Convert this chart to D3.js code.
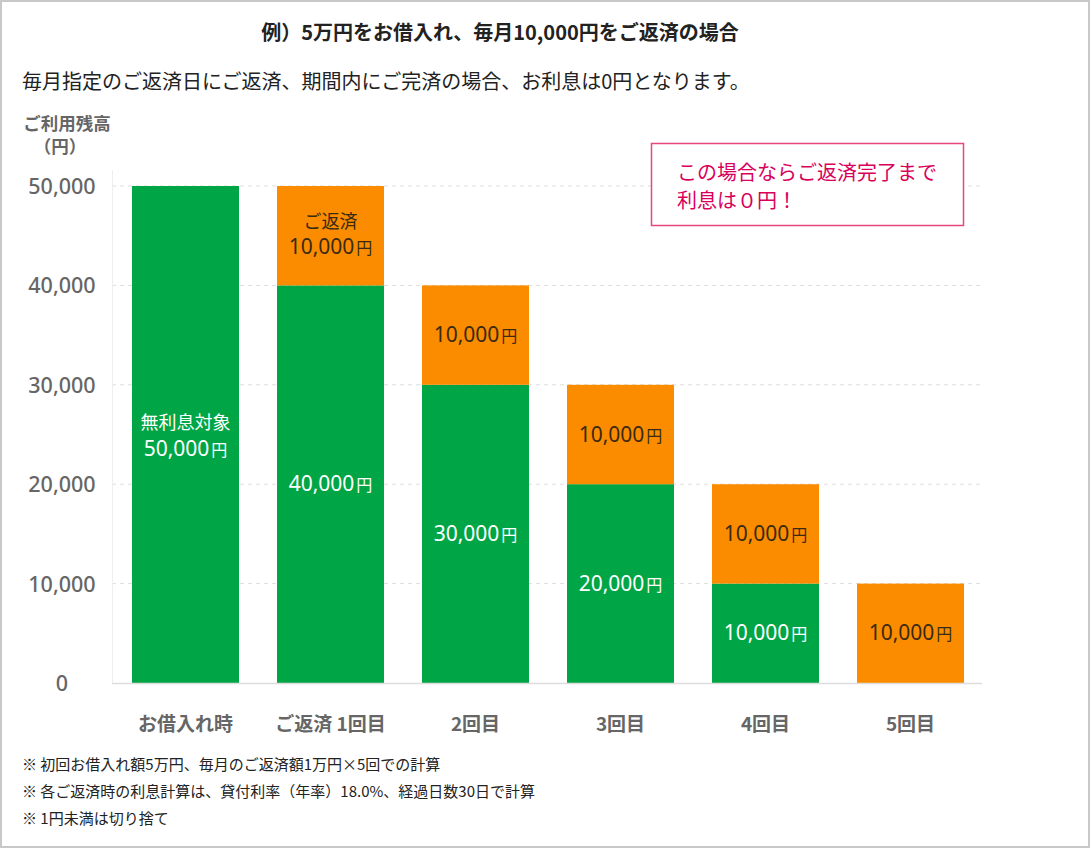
<!DOCTYPE html>
<html><head><meta charset="utf-8">
<script src="https://cdn.jsdelivr.net/npm/d3@7"></script>
<style>
html,body{margin:0;padding:0;background:#fff;}
svg{display:block;font-family:"Noto Sans CJK JP","Noto Sans",sans-serif;}
</style></head>
<body>
<svg id="chart" width="1090" height="848"></svg>
<script>
const categories = ["お借入れ時", "ご返済 1回目", "2回目", "3回目", "4回目", "5回目"];
const balance = [50000, 40000, 30000, 20000, 10000, 0];
const repayment = [0, 10000, 10000, 10000, 10000, 10000];
const yTicks = [0, 10000, 20000, 30000, 40000, 50000];
const balanceLabelTop = ["無利息対象", null, null, null, null, null];
const repayLabelTop = [null, "ご返済", null, null, null, null];
const footnotes = [
  "※ 初回お借入れ額5万円、毎月のご返済額1万円×5回での計算",
  "※ 各ご返済時の利息計算は、貸付利率（年率）18.0%、経過日数30日で計算",
  "※ 1円未満は切り捨て"
];

const svg = d3.select("#chart");
const W = 1090, H = 848;
const numFont = '"Noto Sans","Noto Sans CJK JP",sans-serif';
svg.append("rect").attr("x",1).attr("y",1).attr("width",W-2).attr("height",H-2)
  .attr("fill","#fff").attr("stroke","#c8c8c8").attr("stroke-width",2);

const x = d3.scaleBand().domain(categories).range([113, 983]).paddingInner(0.262).paddingOuter(0.131);
const y = d3.scaleLinear().domain([0, 50000]).range([683, 186]);
const fmt = d3.format(",");

// title
svg.append("text").attr("x", 500).attr("y", 40).attr("text-anchor","middle")
  .attr("font-size", 20).attr("font-weight","bold").attr("fill","#222")
  .text("例）5万円をお借入れ、毎月10,000円をご返済の場合");
svg.append("text").attr("x", 22).attr("y", 89)
  .attr("font-size", 20).attr("fill","#222")
  .text("毎月指定のご返済日にご返済、期間内にご完済の場合、お利息は0円となります。");

// y axis title
svg.append("text").attr("x", 67).attr("y", 130).attr("text-anchor","middle")
  .attr("font-size", 17.5).attr("font-weight","bold").attr("fill","#666").text("ご利用残高");
svg.append("text").attr("x", 60).attr("y", 153).attr("text-anchor","middle")
  .attr("font-size", 17.5).attr("font-weight","bold").attr("fill","#666").text("（円）");

// gridlines
const grid = svg.append("g");
grid.selectAll("line").data(yTicks.filter(d => d > 0)).join("line")
  .attr("x1", 112).attr("x2", 982).attr("y1", d => y(d)).attr("y2", d => y(d))
  .attr("stroke","#ddd").attr("stroke-dasharray","4,4").attr("stroke-width",1);
// left axis line
svg.append("line").attr("x1",112.5).attr("x2",112.5).attr("y1",170).attr("y2",683)
  .attr("stroke","#eee").attr("stroke-width",1);

// y axis labels via d3 axis
const yAxis = d3.axisLeft(y).tickValues(yTicks).tickFormat(fmt).tickSize(0).tickPadding(0);
const ya = svg.append("g").attr("transform","translate(62,0)").call(yAxis);
ya.select(".domain").remove();
ya.selectAll("text").attr("text-anchor","middle").attr("font-size",21.5).attr("font-weight","500")
  .attr("fill","#666").attr("font-family",numFont).attr("dy","0.35em");

// bars
const g = svg.append("g");
g.selectAll("rect.bal").data(categories).join("rect").attr("class","bal")
  .attr("x", d => x(d)).attr("width", x.bandwidth())
  .attr("y", (d,i) => y(balance[i])).attr("height", (d,i) => y(0) - y(balance[i]))
  .attr("fill","#00a645");
g.selectAll("rect.rep").data(categories).join("rect").attr("class","rep")
  .attr("x", d => x(d)).attr("width", x.bandwidth())
  .attr("y", (d,i) => y(balance[i] + repayment[i])).attr("height", (d,i) => y(balance[i]) - y(balance[i]+repayment[i]))
  .attr("fill","#fb8c00");

// x axis line
svg.append("line").attr("x1",112).attr("x2",982).attr("y1",683.5).attr("y2",683.5)
  .attr("stroke","#ddd").attr("stroke-width",1.5);

function amountLabel(sel, value, color){
  const t = sel.append("text").attr("text-anchor","middle").attr("fill",color).attr("font-size",21)
    .attr("font-family",numFont);
  t.append("tspan").text(fmt(value));
  t.append("tspan").attr("font-size",16).attr("dx",2).attr("font-family",'"Noto Sans CJK JP",sans-serif').text("円");
  return t;
}

categories.forEach((c,i) => {
  const cx = x(c) + x.bandwidth()/2;
  if (balance[i] > 0) {
    const cy = (y(0) + y(balance[i]))/2;
    const gg = svg.append("g");
    if (balanceLabelTop[i]) {
      gg.append("text").attr("x",cx).attr("y",cy-6).attr("text-anchor","middle")
        .attr("fill","#fff").attr("font-size",18).text(balanceLabelTop[i]);
      amountLabel(gg, balance[i], "#fff").attr("x",cx).attr("y",cy+21);
    } else {
      amountLabel(gg, balance[i], "#fff").attr("x",cx).attr("y",cy+7);
    }
  }
  if (repayment[i] > 0) {
    const cy = (y(balance[i]) + y(balance[i]+repayment[i]))/2;
    const gg = svg.append("g");
    if (repayLabelTop[i]) {
      gg.append("text").attr("x",cx).attr("y",cy-8).attr("text-anchor","middle")
        .attr("fill","#3a2a12").attr("font-size",18).text(repayLabelTop[i]);
      amountLabel(gg, repayment[i], "#3a2a12").attr("x",cx).attr("y",cy+18);
    } else {
      amountLabel(gg, repayment[i], "#3a2a12").attr("x",cx).attr("y",cy+7);
    }
  }
});

// x axis labels
const xAxis = d3.axisBottom(x).tickSize(0).tickPadding(0);
const xa = svg.append("g").attr("transform","translate(0,724)").call(xAxis);
xa.select(".domain").remove();
xa.selectAll("text").attr("font-size",19).attr("font-weight","bold").attr("fill","#666")
  .attr("font-family",'"Noto Sans CJK JP","Noto Sans",sans-serif').attr("dy","0.35em");

// callout
svg.append("rect").attr("x",651.5).attr("y",143.5).attr("width",312).attr("height",82)
  .attr("fill","#fff").attr("stroke","#e8477d").attr("stroke-width",1.5);
svg.append("text").attr("x",677).attr("y",180).attr("font-size",20).attr("fill","#d9005b")
  .text("この場合ならご返済完了まで");
svg.append("text").attr("x",677).attr("y",208).attr("font-size",20).attr("fill","#d9005b")
  .text("利息は０円！");

// footnotes
svg.selectAll("text.fn").data(footnotes).join("text").attr("class","fn")
  .attr("x",22).attr("y",(d,i) => 770 + i*27).attr("font-size",15).attr("fill","#222")
  .text(d => d);
</script>
</body></html>
